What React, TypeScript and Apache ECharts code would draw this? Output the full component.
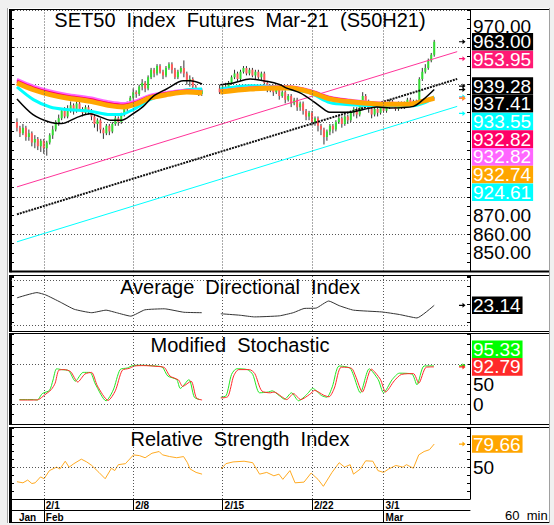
import React, { useEffect, useRef } from 'react';
import * as echarts from 'echarts';

const FONT = '"Liberation Sans", Arial, Helvetica, sans-serif';

// x = 60-minute bar number, bar 0 = first bar of 2/1
const FIRST_BAR = -9;
const X_MIN = -11;
const X_MAX = 143;

const weekStarts = [0, 30, 60, 90, 114];
const weekLabels = ['2/1', '2/8', '2/15', '2/22', '3/1'];
const monthTicks = [0, 114];
const monthLabelBars = [-9, 0, 114];
const monthLabels = ['Jan', 'Feb', 'Mar'];

const stochLabelValues = [0, 50, 100];
const rsiLabelValues = [50];
const adxGuides = [10, 40];
const stochGuides = [0, 100];
const rsiGuides = [50];

// [open, close, low, high] per bar starting at FIRST_BAR, null = no trading
const ohlc: ([number, number, number, number] | null)[] = [
  [920, 917, 915, 922], [917, 914, 912, 918], [914, 917, 913, 919], [917, 912, 910, 918],
  [912, 914, 910, 916], [914, 909, 907, 915], [909, 911, 906, 913], [911, 907, 905, 912],
  [907, 910, 904, 911],
  [910, 906, 903, 911], [906, 909, 902, 910], [909, 913, 908, 914], [913, 916, 911, 918],
  [916, 920, 915, 921], [920, 922, 918, 924],
  [922, 926, 921, 927], [926, 923, 922, 928], [923, 927, 922, 929], [927, 929, 925, 931],
  [929, 926, 924, 930], [926, 930, 925, 931],
  [930, 927, 926, 931], [927, 925, 923, 928], [925, 928, 924, 929], [928, 926, 924, 929],
  [926, 923, 921, 927], [923, 919, 917, 924],
  [919, 921, 915, 922], [921, 916, 914, 922], [916, 914, 911, 917], [914, 918, 913, 919],
  [918, 915, 913, 919], [915, 919, 914, 920],
  [919, 922, 918, 924], [922, 920, 918, 923], [920, 924, 919, 925], [924, 927, 923, 928],
  [927, 929, 926, 931], [929, 933, 928, 934],
  [933, 936, 932, 938], [936, 935, 933, 937], [935, 939, 934, 940], [939, 941, 937, 943],
  [941, 938, 936, 942], [938, 944, 937, 945],
  [944, 948, 943, 949], [948, 946, 944, 949], [946, 950, 945, 951], [950, 947, 946, 951],
  [947, 945, 943, 948], [945, 949, 944, 950],
  [949, 951, 948, 952], [951, 948, 946, 952], [948, 944, 943, 949], [944, 947, 943, 948],
  [947, 949, 946, 950], [949, 946, 944, 953],
  [946, 942, 940, 947], [942, 943, 939, 945], [943, 939, 937, 944], [939, 937, 935, 940],
  [937, 935, 934, 938], [935, 937, 934, 938],
  null, null, null, null, null,
  [938, 936, 935, 940],
  [936, 939, 935, 940], [939, 937, 936, 941], [937, 941, 936, 942], [941, 944, 940, 945],
  [944, 946, 943, 948], [946, 943, 942, 947],
  [943, 947, 942, 948], [947, 949, 946, 950], [949, 946, 945, 950], [946, 948, 945, 949],
  [948, 945, 944, 949], [945, 947, 943, 948],
  [947, 944, 943, 948], [944, 946, 942, 947], [946, 941, 940, 947], [941, 938, 936, 942],
  [938, 939, 936, 940], [939, 936, 934, 940],
  [936, 938, 935, 939], [938, 934, 932, 939], [934, 936, 933, 937], [936, 932, 930, 937],
  [932, 934, 931, 935], [934, 930, 928, 935],
  [930, 932, 929, 933], [932, 928, 926, 933], [928, 930, 926, 931], [930, 926, 924, 931],
  [926, 923, 921, 927], [923, 925, 921, 926],
  [925, 920, 918, 926], [920, 922, 918, 923], [922, 918, 915, 923], [918, 916, 913, 919],
  [916, 912, 908, 917], [912, 915, 910, 916],
  [915, 918, 913, 919], [918, 916, 914, 919], [916, 920, 915, 921], [920, 922, 919, 924],
  [922, 919, 917, 923], [919, 923, 918, 924],
  [923, 921, 919, 924], [921, 925, 920, 926], [925, 927, 923, 928], [927, 924, 922, 928],
  [924, 930, 923, 931], [930, 934, 929, 936],
  [934, 931, 929, 935], [931, 927, 925, 932], [927, 924, 922, 928], [924, 927, 923, 928],
  [927, 925, 923, 928], [925, 929, 924, 930],
  [929, 926, 925, 930], [926, 928, 925, 929], [928, 931, 927, 932], [931, 929, 928, 932],
  [929, 927, 926, 930], [927, 930, 926, 931],
  [930, 928, 927, 931], [928, 930, 927, 931], [930, 932, 929, 933], [932, 929, 928, 933],
  [929, 931, 928, 932], [931, 930, 929, 932],
  [930, 943, 929, 944], [943, 947, 942, 949], [947, 949, 946, 951], [949, 953, 948, 954],
  [953, 956, 952, 957], [956, 963, 955, 964],
];

// trend channel (value at start, at last bar, at right end)
const trendBars = [-9, 131, 138.7];
const pinkTrend = [885.3, 953.95, 957.7];
const blackTrend = [870.6, 939.28, 943.1];
const cyanTrend = [855.9, 924.61, 928.4];

// moving averages
const blackMA: [number, number | null][] = [
  [-9, 932.4], [-3.6, 924], [2.1, 919.9], [6, 919.2], [11, 922.4], [15.5, 924.4], [18.9, 922.8],
  [22.2, 921], [26.1, 921], [29.5, 924], [33.4, 928.4], [36.7, 933.8], [41.2, 937.7], [46.8, 942.1],
  [49.1, 942.1], [53.1, 940.4], [56, null], [59.2, 940], [63.6, 940.9], [69.2, 943], [74.8, 941.8],
  [79.3, 940], [81.5, 938.2], [86, 935.6], [90.4, 931.1], [94.9, 925.8], [96, 925.2], [102.7, 925.2],
  [107.2, 926.7], [111.7, 928.1], [116.2, 927.6], [124, 928.4], [127.3, 932], [131, 937.41],
];
const cyanMA: [number, number | null][] = [
  [-9, 938.8], [-3.5, 932], [2.1, 928.1], [7.7, 926.7], [15.5, 925.8], [22.2, 924], [25.6, 924],
  [30, 926.7], [35.6, 932], [41.2, 935], [48, 937.3], [53.1, 937.7], [56, null], [59.2, 937.7],
  [69.2, 939.5], [79.3, 938.8], [82.6, 937.7], [89.3, 935.6], [96, 930.4], [102.7, 929.3],
  [112.8, 928.8], [123.9, 928.8], [127.9, 930.4], [131, 933.55],
];
const maBars = [-9, -3.5, 2.1, 7.7, 15.5, 22.2, 26.7, 31.2, 35.6, 41.2, 48, 53.1, 56, 59.2, 69.2, 79.3, 82.6, 89.3, 96, 103.8, 112.8, 122.9, 127.9, 131];
const orangeMA = [940.9, 937.3, 934.7, 932.9, 931.1, 928.8, 928.1, 929.9, 932.9, 934.7, 936.1, 935.6, null, 936.1, 937.7, 938.2, 938.2, 936.1, 932.4, 930.7, 929.6, 929.6, 931.5, 932.74];
const redMA = [941.9, 938.3, 935.7, 933.9, 932.1, 929.8, 929.0, 930.7, 933.6, 935.3, 936.6, 936.0, null, 936.5, 938.1, 938.6, 938.6, 936.6, 933.0, 931.2, 930.0, 929.9, 931.7, 932.82];
const magentaMA = [942.8, 939.2, 936.6, 934.8, 933.0, 930.7, 929.9, 931.5, 934.2, 935.8, 937.0, 936.4, null, 936.8, 938.4, 938.9, 938.9, 936.9, 933.3, 931.5, 930.2, 930.0, 931.8, 932.82];

const adx: [number, number | null][] = [
  [-9, 28.1], [-2.3, 31.6], [0.7, 30.0], [5.5, 25.3], [10.2, 20.5], [16.1, 18.2], [20.9, 19.9],
  [24.4, 18.2], [29.2, 15.9], [33.9, 20.1], [40.4, 20.8], [47, 18.5], [53, 18.2], [56, null],
  [59.4, 17.5], [65.9, 16.5], [70.7, 15.4], [79, 16.1], [83.7, 18.2], [87.3, 21.0], [91.4, 21.3],
  [95.6, 26.0], [99.1, 22.9], [103.9, 19.9], [113.4, 18.7], [119.3, 17.0], [125.2, 14.7], [131, 23.14],
];

const stochK: [number, number | null][] = [
  [-8.2, 11], [-3.4, 11], [-2.2, 10], [-0.5, 26], [1.9, 34], [3.1, 60], [4.3, 88], [6, 86], [8.4, 83],
  [10.6, 57], [13.2, 79], [15.5, 79], [17.3, 50], [20.9, 8], [23.3, 35], [25.6, 86], [28, 90],
  [29.8, 96], [32.7, 97], [37.5, 95], [39.8, 92], [41.6, 70], [44.6, 61], [45.8, 39], [48.7, 61],
  [50.5, 17], [52.3, 11], [56, null], [59.4, 17], [61.2, 21], [63, 74], [64.7, 88], [68.3, 86],
  [70.1, 74], [72.4, 28], [75.4, 30], [76.6, 33], [79, 21], [80.8, 12], [83.1, 28], [85.5, 8],
  [88.5, 26], [90.2, 39], [93.2, 21], [95, 17], [96.8, 43], [99.1, 95], [102.7, 90], [103.9, 72],
  [106.2, 28], [109.2, 88], [112.2, 61], [114, 28], [116.9, 61], [119.3, 77], [123.5, 75],
  [125.2, 48], [127.6, 95], [130.9, 95.33],
];
const stochD: [number, number | null][] = [
  [-8.2, 10], [-3.4, 10], [-1.8, 11], [0.2, 22], [2.5, 36], [3.8, 52], [5, 84], [6.8, 86], [9, 81],
  [11.4, 55], [13.8, 75], [16, 79], [18, 45], [21.6, 9], [24, 33], [26.3, 84], [28.6, 89], [30.5, 95],
  [33.4, 96], [38, 94], [40.5, 91], [42.3, 70], [45.2, 60], [46.6, 44], [49.4, 57], [51.2, 15],
  [53.1, 10], [56, null], [59.4, 15], [61.8, 19], [63.7, 70], [65.4, 86], [69, 86], [70.8, 76],
  [73.1, 33], [76, 28], [77.3, 30], [79.7, 19], [81.5, 11], [83.8, 26], [86.2, 11], [89.2, 24],
  [90.9, 34], [93.9, 22], [95.7, 18], [97.5, 40], [99.8, 92], [103.3, 89], [104.6, 70], [106.9, 30],
  [109.9, 87], [112.9, 62], [114.7, 30], [117.6, 58], [120, 74], [124, 76], [125.8, 52], [128.3, 92],
  [130.9, 92.79],
];

const rsi: [number, number | null][] = [
  [-9, 31.9], [-7, 30.5], [-5.4, 34], [-4, 29.6], [-2.9, 30.5], [-1.1, 38], [0.1, 35.7], [1.9, 46],
  [4.3, 50.4], [5.4, 48], [7.2, 57.9], [8.5, 50.4], [10.1, 54.8], [12.6, 60.5], [14.4, 57], [16.1, 52.5],
  [18.5, 43.7], [20.6, 35.7], [22.7, 49], [23.8, 46], [25, 53.5], [27.4, 54.8], [30.1, 65.9], [32.1, 65],
  [34, 62.3], [36.3, 68], [38.7, 70.2], [39.8, 66], [42.2, 63.8], [44.6, 62.3], [46.9, 63.8], [48.2, 56],
  [49.1, 48], [51.1, 43.7], [53.1, 41.5], [56, null], [59.5, 48], [61.1, 54.8], [63.5, 57], [67.2, 57.9],
  [70.1, 56], [72.4, 41.5], [74.8, 43.7], [77.2, 39.4], [78.9, 41.5], [80.2, 34.9], [82.6, 46],
  [84.3, 30.5], [87.3, 31.4], [89.7, 42.9], [92, 34.9], [93.8, 26.1], [96.7, 43.7], [99.1, 56],
  [100.9, 50.4], [102.8, 53.5], [103.9, 41.5], [106.2, 48], [108, 58.4], [110.4, 57.9], [112.1, 46],
  [114, 43.7], [115.7, 48], [118.1, 52.5], [120.5, 50.4], [121.7, 53.5], [124, 49], [125.8, 65.9],
  [127.6, 70.2], [129.4, 72.5], [131, 79.66],
];

// ---- styling ----
const C_PINK = '#ff3399';
const C_PINK_TAG = '#ff1a75';
const C_CYAN = '#00ffff';
const C_RED = '#ff0066';
const C_MAGENTA = '#ff66ff';
const C_ORANGE = '#ffa500';
const C_UP = '#33dd33';
const C_DOWN = '#ff5a5a';
const C_WICK = '#333333';
const C_K = '#22e622';
const C_D = '#ff2a2a';
const C_RSI = '#ffaa22';

const PLOT_LEFT = 11;
const PLOT_W = 459;
const GRIDS = [
  { top: 10, height: 261.5 },
  { top: 276, height: 55 },
  { top: 334, height: 90 },
  { top: 428, height: 71 },
];
const ADX_MAX = 42.667;
const TAG_H = 17.7;
const TAG_X = 472;
const ARROW_X = 459;

const zip = (xs: number[], ys: (number | null)[]) => xs.map((x, i) => [x, ys[i]]);
const lastVal = (arr: (number | null)[]) => {
  for (let i = arr.length - 1; i >= 0; i--) if (arr[i] != null) return arr[i] as number;
  return 0;
};
const lastPair = (arr: [number, number | null][]) => lastVal(arr.map((p) => p[1]));

function guideLines(horiz: number[]) {
  return {
    silent: true,
    symbol: ['none', 'none'],
    animation: false,
    label: { show: false },
    emphasis: { disabled: true },
    lineStyle: { type: [1, 2], color: '#555', width: 1 },
    data: [...weekStarts.map((v) => ({ xAxis: v })), ...horiz.map((v) => ({ yAxis: v }))],
  };
}

function line(data: any[], xi: number, yi: number, color: string, width: number, extra: any = {}) {
  return {
    type: 'line',
    xAxisIndex: xi,
    yAxisIndex: yi,
    data,
    symbol: 'none',
    showSymbol: false,
    connectNulls: false,
    silent: true,
    emphasis: { disabled: true },
    lineStyle: { color, width },
    ...extra,
  };
}

function leftAxis(gridIndex: number, min: number, max: number, interval: number, extra: any = {}) {
  return {
    type: 'value', gridIndex, position: 'left', min, max, interval,
    axisLine: { show: true, onZero: false, lineStyle: { color: '#000', width: 2 } },
    axisTick: { show: true, inside: true, length: 3, lineStyle: { color: '#000' } },
    axisLabel: { show: false },
    splitLine: { show: false },
    ...extra,
  };
}
function rightAxis(gridIndex: number, min: number, max: number, interval: number, extra: any = {}) {
  return {
    type: 'value', gridIndex, position: 'right', min, max, interval,
    axisLine: { show: true, onZero: false, lineStyle: { color: '#000', width: 1 } },
    axisTick: { show: true, inside: true, length: 3, lineStyle: { color: '#000' } },
    axisLabel: { show: false },
    splitLine: { show: false },
    ...extra,
  };
}
const labelStyle = { show: true, color: '#000', fontSize: 19, fontFamily: FONT, margin: 3, lineHeight: 14 };

function buildOption() {
  const candleData = ohlc
    .map((c, i) => (c ? [FIRST_BAR + i, c[0], c[1], c[2], c[3]] : null))
    .filter((d) => d !== null);

  const baseX = (gridIndex: number) => ({ type: 'value', gridIndex, min: X_MIN, max: X_MAX, show: false });

  return {
    animation: false,
    backgroundColor: '#ffffff',
    grid: GRIDS.map((g) => ({ left: PLOT_LEFT, width: PLOT_W, top: g.top, height: g.height, containLabel: false })),
    xAxis: [
      baseX(0), baseX(1), baseX(2),
      {
        type: 'value', gridIndex: 3, min: X_MIN, max: X_MAX, position: 'bottom',
        axisLine: { show: true, onZero: false, lineStyle: { color: '#000', width: 1 } },
        axisTick: { show: true, customValues: weekStarts, length: 11, lineStyle: { color: '#000' } },
        axisLabel: {
          show: true, customValues: weekStarts,
          formatter: (v: number) => weekLabels[weekStarts.indexOf(v)] ?? '',
          align: 'left', verticalAlign: 'top', margin: 1, padding: [0, 0, 0, 2],
          color: '#000', fontSize: 10, fontWeight: 'bold', fontFamily: FONT,
        },
        splitLine: { show: false },
      },
      {
        type: 'value', gridIndex: 3, min: X_MIN, max: X_MAX, position: 'bottom', offset: 11,
        axisLine: { show: true, onZero: false, lineStyle: { color: '#000', width: 1 } },
        axisTick: { show: true, customValues: monthTicks, length: 13, lineStyle: { color: '#000' } },
        axisLabel: {
          show: true, customValues: monthLabelBars,
          formatter: (v: number) => monthLabels[monthLabelBars.indexOf(v)] ?? '',
          align: 'left', verticalAlign: 'top', margin: 2, padding: [0, 0, 0, 2],
          color: '#000', fontSize: 10, fontWeight: 'bold', fontFamily: FONT,
        },
        splitLine: { show: false },
      },
    ],
    yAxis: [
      leftAxis(0, 840, 980, 20, {
        splitLine: { show: true, lineStyle: { type: [1, 2], color: '#555', width: 1 } },
        minorTick: { show: true, splitNumber: 4, length: 3, lineStyle: { color: '#000' } },
      }),
      rightAxis(0, 840, 980, 10, {
        axisLabel: { ...labelStyle, showMinLabel: false, showMaxLabel: false, formatter: (v: number) => v.toFixed(2) },
        minorTick: { show: true, splitNumber: 2, length: 3, lineStyle: { color: '#000' } },
      }),
      leftAxis(1, 6, ADX_MAX, 6),
      rightAxis(1, 6, ADX_MAX, 6),
      leftAxis(2, -50, 175, 25),
      rightAxis(2, -50, 175, 25, { axisLabel: { ...labelStyle, customValues: stochLabelValues, formatter: (v: number) => String(v) } }),
      leftAxis(3, 10, 100, 10),
      rightAxis(3, 10, 100, 10, { axisLabel: { ...labelStyle, customValues: rsiLabelValues, formatter: (v: number) => String(v) } }),
    ],
    series: [
      line(zip(trendBars, pinkTrend), 0, 0, C_PINK, 1, { markLine: guideLines([]) }),
      line(zip(trendBars, cyanTrend), 0, 0, C_CYAN, 1),
      line(zip(trendBars, blackTrend), 0, 0, '#111', 2, { lineStyle: { color: '#111', width: 2, type: [2, 1] } }),
      {
        type: 'custom',
        xAxisIndex: 0,
        yAxisIndex: 0,
        silent: true,
        clip: true,
        dimensions: ['bar', 'open', 'close', 'low', 'high'],
        encode: { x: 0, y: [1, 2, 3, 4] },
        data: candleData,
        renderItem: (_params: any, api: any) => {
          const x = api.value(0);
          const o = api.value(1);
          const c = api.value(2);
          const pLow = api.coord([x, api.value(3)]);
          const pHigh = api.coord([x, api.value(4)]);
          const pO = api.coord([x, o]);
          const pC = api.coord([x, c]);
          const top = Math.min(pO[1], pC[1]);
          const h = Math.max(1, Math.abs(pO[1] - pC[1]));
          return {
            type: 'group',
            children: [
              { type: 'line', shape: { x1: pLow[0], y1: pLow[1], x2: pHigh[0], y2: pHigh[1] }, style: { stroke: C_WICK, lineWidth: 1 } },
              { type: 'rect', shape: { x: pO[0] - 1, y: top, width: 2, height: h }, style: { fill: c >= o ? C_UP : C_DOWN } },
            ],
          };
        },
      },
      line(cyanMA, 0, 0, C_CYAN, 3, { smooth: 0.3 }),
      line(zip(maBars, magentaMA), 0, 0, C_MAGENTA, 3, { smooth: 0.3 }),
      line(zip(maBars, redMA), 0, 0, C_RED, 3, { smooth: 0.3 }),
      line(zip(maBars, orangeMA), 0, 0, C_ORANGE, 5, { smooth: 0.3 }),
      line(blackMA, 0, 0, '#000', 1.5, { smooth: 0.3 }),

      line(adx, 1, 2, '#333', 1, { smooth: 0.15, markLine: guideLines(adxGuides) }),

      line(stochK, 2, 4, C_K, 1, { smooth: 0.25, markLine: guideLines(stochGuides) }),
      line(stochD, 2, 4, C_D, 1, { smooth: 0.25 }),

      line(rsi, 3, 6, C_RSI, 1, { markLine: guideLines(rsiGuides) }),
    ],
  };
}

type Tag = { value: number; color: string; anchor?: boolean };

function staticGraphics() {
  const g: any[] = [];
  const gray = '#f0f0f0';
  g.push({ type: 'rect', shape: { x: 0, y: 0, width: 554, height: 8 }, style: { fill: gray }, silent: true });
  g.push({ type: 'rect', shape: { x: 0, y: 0, width: 7, height: 525 }, style: { fill: gray }, silent: true });
  g.push({ type: 'rect', shape: { x: 550, y: 0, width: 4, height: 525 }, style: { fill: gray }, silent: true });
  g.push({ type: 'rect', shape: { x: 0, y: 523, width: 554, height: 2 }, style: { fill: gray }, silent: true });
  g.push({ type: 'line', shape: { x1: 7.5, y1: 8, x2: 7.5, y2: 523 }, style: { stroke: '#a0a0a0', lineWidth: 1 }, silent: true });
  g.push({ type: 'line', shape: { x1: 549.5, y1: 8, x2: 549.5, y2: 523 }, style: { stroke: '#a0a0a0', lineWidth: 1 }, silent: true });
  // panes: top and bottom edges across the full width, left edge in black
  const panes = [
    [9.5, 271.5],
    [275.5, 331.5],
    [333.5, 424.5],
    [427.5, 522.5],
  ];
  panes.forEach(([y1, y2]) => {
    g.push({ type: 'line', shape: { x1: 9, y1, x2: 549, y2: y1 }, style: { stroke: '#000', lineWidth: 1 }, silent: true, z: 20 });
    g.push({ type: 'line', shape: { x1: 9, y1: y2, x2: 549, y2 }, style: { stroke: '#000', lineWidth: 1 }, silent: true, z: 20 });
    g.push({ type: 'line', shape: { x1: 9.5, y1, x2: 9.5, y2 }, style: { stroke: '#000', lineWidth: 1 }, silent: true, z: 20 });
  });
  g.push({ type: 'line', shape: { x1: 9, y1: 271.5, x2: 549, y2: 271.5 }, style: { stroke: '#000', lineWidth: 2 }, silent: true, z: 20 });
  g.push({ type: 'line', shape: { x1: 11, y1: 499, x2: 11, y2: 523 }, style: { stroke: '#000', lineWidth: 2 }, silent: true, z: 20 });
  const title = (text: string, y: number, size: number) => ({
    type: 'text', x: 240, y, silent: true, z: 30,
    style: {
      text, fill: '#000', font: `${size}px ${FONT}`,
      align: 'center', textAlign: 'center', verticalAlign: 'middle', textVerticalAlign: 'middle',
    },
  });
  g.push(title('SET50  Index  Futures  Mar-21  (S50H21)', 20, 20));
  g.push(title('Average  Directional  Index', 287, 20));
  g.push(title('Modified  Stochastic', 345, 20));
  g.push(title('Relative  Strength  Index', 439, 20));
  g.push({
    type: 'text', x: 505, y: 515, silent: true, z: 30,
    style: { text: '60  min', fill: '#000', font: `13px ${FONT}`, align: 'left', textAlign: 'left', verticalAlign: 'middle', textVerticalAlign: 'middle' },
  });
  return g;
}

export default function App() {
  const ref = useRef<HTMLDivElement>(null);
  useEffect(() => {
    const el = ref.current;
    if (!el) return;
    const chart = echarts.init(el, null, { renderer: 'svg' });
    chart.setOption(buildOption() as any);

    const lastCandle = ohlc[ohlc.length - 1] as number[];
    const panels: { axis: number; tags: Tag[] }[] = [
      {
        axis: 0,
        tags: [
          { value: lastCandle[1], color: '#000000', anchor: true },
          { value: pinkTrend[1], color: C_PINK_TAG },
          { value: blackTrend[1], color: '#000000' },
          { value: lastPair(blackMA), color: '#000000' },
          { value: lastPair(cyanMA), color: C_CYAN },
          { value: lastVal(redMA), color: C_RED },
          { value: lastVal(magentaMA), color: C_MAGENTA },
          { value: lastVal(orangeMA), color: C_ORANGE },
          { value: cyanTrend[1], color: C_CYAN },
        ],
      },
      { axis: 2, tags: [{ value: lastPair(adx), color: '#000000', anchor: true }] },
      {
        axis: 4,
        tags: [
          { value: lastPair(stochK), color: '#00ff00' },
          { value: lastPair(stochD), color: C_D, anchor: true },
        ],
      },
      { axis: 6, tags: [{ value: lastPair(rsi), color: C_ORANGE, anchor: true }] },
    ];

    const toY = (axis: number, v: number) => chart.convertToPixel({ yAxisIndex: axis } as any, v) as unknown as number;
    const dyn: any[] = [];
    const boxes: Record<number, number[]> = {};
    panels.forEach((p) => {
      const tags = p.tags.slice().sort((a, b) => b.value - a.value);
      const ys = tags.map((t) => toY(p.axis, t.value));
      const out = ys.slice();
      let a = tags.findIndex((t) => t.anchor);
      if (a < 0) a = 0;
      for (let i = a + 1; i < tags.length; i++) out[i] = Math.max(ys[i], out[i - 1] + TAG_H);
      for (let i = a - 1; i >= 0; i--) out[i] = Math.min(ys[i], out[i + 1] - TAG_H);
      boxes[p.axis] = out;
      tags.forEach((t, i) => {
        const y = ys[i];
        dyn.push({
          type: 'polygon', silent: true, z: 40,
          shape: {
            points: [
              [ARROW_X, y - 0.6], [ARROW_X + 3.5, y - 0.6], [ARROW_X + 3.5, y - 2.5], [ARROW_X + 6.5, y],
              [ARROW_X + 3.5, y + 2.5], [ARROW_X + 3.5, y + 0.6], [ARROW_X, y + 0.6],
            ],
          },
          style: { fill: t.color },
        });
      });
      tags.forEach((t, i) => {
        dyn.push({
          type: 'text', x: TAG_X, y: out[i], silent: true, z: 50,
          style: {
            text: t.value.toFixed(2), fill: '#ffffff', font: `19px ${FONT}`,
            backgroundColor: t.color, padding: [0, 2, 0, 1], lineHeight: 17.6,
            align: 'left', textAlign: 'left', verticalAlign: 'middle', textVerticalAlign: 'middle',
          },
        });
      });
    });

    const covered = (axis: number, v: number) => {
      const y = toY(axis, v);
      return (boxes[axis] || []).some((c) => Math.abs(c - y) < TAG_H / 2 + 1);
    };
    // a label sitting just above a tag is nudged up so it clears the tag
    const tagBelow = (axis: number, v: number) => {
      const y = toY(axis, v);
      return (boxes[axis] || []).some((c) => c > y && c - y < TAG_H / 2 + 10);
    };
    const fmt = (axis: number, digits: number) => (v: number) => {
      if (covered(axis, v)) return '';
      const s = digits > 0 ? v.toFixed(digits) : String(v);
      return tagBelow(axis, v) ? `{up|${s}}` : s;
    };
    const rich = { up: { padding: [0, 0, 5, 0], fontSize: 19, fontFamily: FONT, color: '#000', lineHeight: 14 } };

    chart.setOption({
      yAxis: [
        {},
        { axisLabel: { formatter: fmt(0, 2), rich } },
        {},
        {},
        {},
        { axisLabel: { formatter: fmt(4, 0), rich } },
        {},
        { axisLabel: { formatter: fmt(6, 0), rich } },
      ],
      graphic: { elements: [...staticGraphics(), ...dyn] },
    } as any);

    return () => chart.dispose();
  }, []);
  return (
    <div
      ref={ref}
      style={{ position: 'fixed', left: 0, top: 0, width: 554, height: 525, background: '#ffffff' }}
    />
  );
}
